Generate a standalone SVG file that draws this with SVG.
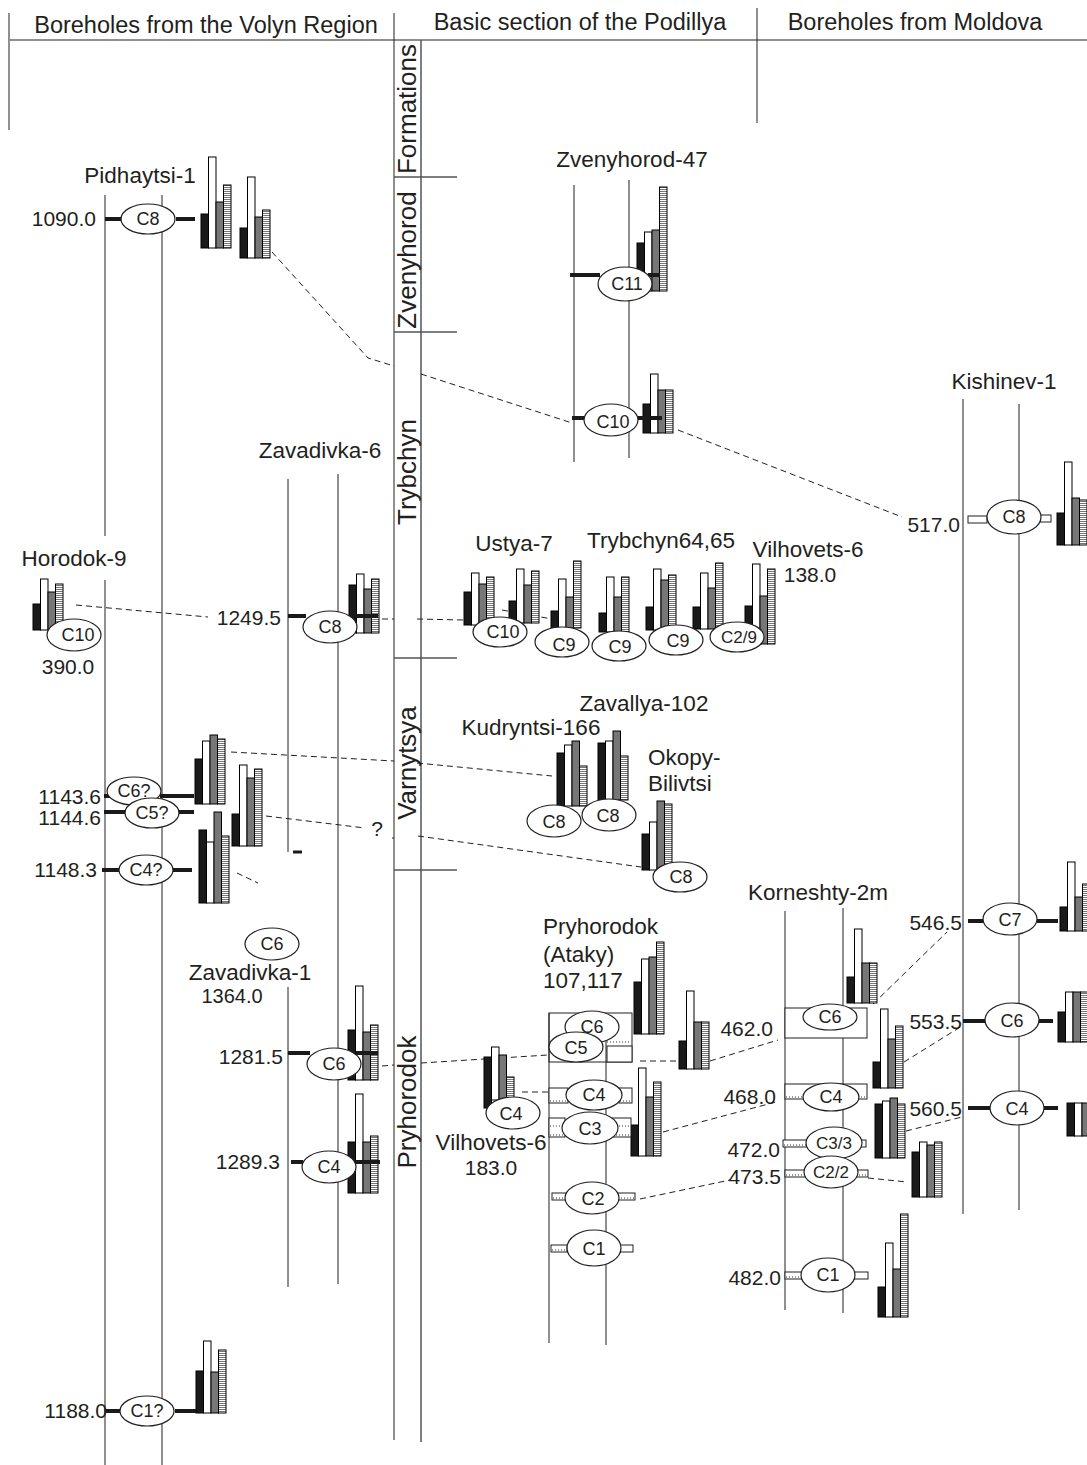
<svg xmlns="http://www.w3.org/2000/svg" width="1087" height="1465" viewBox="0 0 1087 1465">
<defs>
<pattern id="stripe" width="4" height="2" patternUnits="userSpaceOnUse"><rect width="4" height="2" fill="#fff"/><rect y="1" width="4" height="0.9" fill="#666"/></pattern>
<style>
text{font-family:'Liberation Sans',Arial,sans-serif;fill:#231f20}
.h{font-size:23.5px;text-anchor:middle}
.f{font-size:26px;text-anchor:middle}
.nm{font-size:22.5px;text-anchor:middle}
.nl{font-size:22.5px}
.v{font-size:21px;text-anchor:end}
.vm{font-size:21px;text-anchor:middle}
.c{font-size:18px;text-anchor:middle}
.cs{font-size:17px;text-anchor:middle}
.ln{stroke:#231f20;stroke-width:1;fill:none}
.fl{stroke:#555;stroke-width:1.5;fill:none}
.th{stroke:#1a1a1a;stroke-width:4;fill:none}
.ds{stroke:#231f20;stroke-width:1;stroke-dasharray:6 4;fill:none}
.el{fill:#fff;stroke:#231f20;stroke-width:1.2}
.bk{fill:#1a1a1a;stroke:#000;stroke-width:1}
.wh{fill:#fff;stroke:#000;stroke-width:1}
.gr{fill:#777;stroke:#000;stroke-width:1}
.st{fill:url(#stripe);stroke:#000;stroke-width:1}
.tab{fill:#fff;stroke:#231f20;stroke-width:1}
.dt{stroke:#777;stroke-width:1.5;stroke-dasharray:1 2;fill:none}
</style>
</defs>
<rect width="1087" height="1465" fill="#fff"/>

<g id="header">
<path class="ln" d="M9,13 V130 M10,40 H1087 M394,13 V1440 M757,8 V123"/>
<text class="h" x="206" y="33">Boreholes from the Volyn Region</text>
<text class="h" x="580" y="30">Basic section of the Podillya</text>
<text class="h" x="915" y="30">Boreholes from Moldova</text>
</g>

<g id="formations">
<path class="fl" d="M421,40 V1442 M394,177 H457 M394,332 H457 M394,658 H457 M394,870 H457"/>
<text class="f" transform="translate(416,109) rotate(-90)">Formations</text>
<text class="f" transform="translate(416,260) rotate(-90)">Zvenyhorod</text>
<text class="f" transform="translate(416,472) rotate(-90)">Trybchyn</text>
<text class="f" transform="translate(416,763) rotate(-90)">Varnytsya</text>
<text class="f" transform="translate(416,1102) rotate(-90)">Pryhorodok</text>
</g>

<g id="connectors">
<path class="ds" d="M272,252 L368,358 L394,366 M421,374 L572,423"/>
<path class="ds" d="M678,430 L902,517"/>
<path class="ds" d="M76,605 L208,617"/>
<path class="ds" d="M382,619 L394,619 M417,619 L463,620"/>
<path class="ds" d="M502,610 L552,619"/>
<path class="ds" d="M231,752 L394,761 M417,763 L552,776"/>
<path class="ds" d="M266,816 L365,828 M392,838 L394,838 M418,836 L641,867"/>
<path class="ds" d="M237,873 L258,883"/>
<path class="ds" d="M382,1066 L394,1065 M421,1063 L548,1055"/>
<path class="ds" d="M522,1092 L548,1092"/>
<path class="ds" d="M640,1061 L677,1061"/>
<path class="ds" d="M710,1061 L778,1040"/>
<path class="ds" d="M663,1132 L776,1102"/>
<path class="ds" d="M640,1199 L730,1180"/>
<path class="ds" d="M873,1004 L947,932"/>
<path class="ds" d="M904,1062 L962,1026"/>
<path class="ds" d="M906,1131 L962,1117"/>
<path class="ds" d="M868,1178 L907,1182"/>
<text class="vm" x="377" y="836">?</text>
</g>

<g id="pidhaytsi-1">
<path class="ln" d="M105,195 V536 M105,580 V1465 M162,195 V1465"/>
<text class="nm" x="140" y="183">Pidhaytsi-1</text>
<text class="v" x="96" y="226">1090.0</text>
<g transform="translate(201 0)"><rect class="bk" x="0" y="214" width="7.5" height="34"/><rect class="wh" x="7.5" y="157" width="7.5" height="91"/><rect class="gr" x="15" y="202" width="7.5" height="46"/><rect class="st" x="22.5" y="185" width="7.5" height="63"/></g>
<g transform="translate(240 0)"><rect class="bk" x="0" y="228" width="7.5" height="30"/><rect class="wh" x="7.5" y="177" width="7.5" height="81"/><rect class="gr" x="15" y="217" width="7.5" height="41"/><rect class="st" x="22.5" y="210" width="7.5" height="48"/></g>
<path class="th" d="M105,219 H122 M176,219 H195"/>
<ellipse class="el" cx="148" cy="219" rx="27" ry="15"/><text class="c" x="148" y="225">C8</text>
</g>

<g id="pidhaytsi-c6-c5-c4">
<g transform="translate(195 0)"><rect class="bk" x="0" y="759" width="7.5" height="45"/><rect class="wh" x="7.5" y="741" width="7.5" height="63"/><rect class="gr" x="15" y="735" width="7.5" height="69"/><rect class="st" x="22.5" y="739" width="7.5" height="65"/></g>
<g transform="translate(232 0)"><rect class="bk" x="0" y="814" width="7.5" height="32"/><rect class="wh" x="7.5" y="765" width="7.5" height="81"/><rect class="gr" x="15" y="778" width="7.5" height="68"/><rect class="st" x="22.5" y="769" width="7.5" height="77"/></g>
<g transform="translate(199 0)"><rect class="bk" x="0" y="830" width="7.5" height="73"/><rect class="wh" x="7.5" y="842" width="7.5" height="61"/><rect class="gr" x="15" y="812" width="7.5" height="91"/><rect class="st" x="22.5" y="836" width="7.5" height="67"/></g>
<path class="th" d="M104,796 H110 M160,796 H194 M104,812 H126 M178,812 H194 M102,870 H119 M173,870 H192"/>
<text class="v" x="101" y="804">1143.6</text>
<text class="v" x="101" y="825">1144.6</text>
<text class="v" x="97" y="877">1148.3</text>
<ellipse class="el" cx="134" cy="791" rx="27" ry="14"/><text class="c" x="134" y="797">C6?</text>
<ellipse class="el" cx="152" cy="813" rx="27" ry="15"/><text class="c" x="152" y="819">C5?</text>
<ellipse class="el" cx="146" cy="870" rx="27" ry="15"/><text class="c" x="146" y="876">C4?</text>
</g>

<g id="pidhaytsi-c1">
<g transform="translate(196 0)"><rect class="bk" x="0" y="1371" width="7.5" height="42"/><rect class="wh" x="7.5" y="1341" width="7.5" height="72"/><rect class="gr" x="15" y="1372" width="7.5" height="41"/><rect class="st" x="22.5" y="1350" width="7.5" height="63"/></g>
<path class="th" d="M105,1411 H120 M175,1411 H196"/>
<text class="v" x="107" y="1418">1188.0</text>
<ellipse class="el" cx="147" cy="1411" rx="27" ry="15"/><text class="c" x="147" y="1417">C1?</text>
</g>

<g id="horodok-9">
<text class="nm" x="74" y="566">Horodok-9</text>
<g transform="translate(33 0)"><rect class="bk" x="0" y="604" width="7.5" height="26"/><rect class="wh" x="7.5" y="579" width="7.5" height="51"/><rect class="gr" x="15" y="592" width="7.5" height="38"/><rect class="st" x="22.5" y="584" width="7.5" height="46"/></g>
<ellipse class="el" cx="74" cy="635" rx="27" ry="16"/><text class="c" x="78" y="641">C10</text>
<text class="vm" x="68" y="674">390.0</text>
</g>

<g id="zavadivka-6">
<path class="ln" d="M288,479 V852 M338,474 V1284"/>
<path class="th" d="M293,852 H302" style="stroke-width:3"/>
<text class="nm" x="320" y="458">Zavadivka-6</text>
<text class="v" x="281" y="625">1249.5</text>
<g transform="translate(349 0)"><rect class="bk" x="0" y="585" width="7.5" height="48"/><rect class="wh" x="7.5" y="574" width="7.5" height="59"/><rect class="gr" x="15" y="589" width="7.5" height="44"/><rect class="st" x="22.5" y="579" width="7.5" height="54"/></g>
<path class="th" d="M288,616 H306 M355,616 H378"/>
<ellipse class="el" cx="330" cy="627" rx="27" ry="16"/><text class="c" x="330" y="633">C8</text>
</g>

<g id="zavadivka-1">
<path class="ln" d="M288,987 V1287"/>
<ellipse class="el" cx="272" cy="944" rx="27" ry="16"/><text class="c" x="272" y="950">C6</text>
<text class="nm" x="250" y="980">Zavadivka-1</text>
<text class="vm" x="232" y="1003" style="font-size:20px">1364.0</text>
<text class="v" x="283" y="1064">1281.5</text>
<g transform="translate(348 0)"><rect class="bk" x="0" y="1030" width="7.5" height="50"/><rect class="wh" x="7.5" y="986" width="7.5" height="94"/><rect class="gr" x="15" y="1032" width="7.5" height="48"/><rect class="st" x="22.5" y="1025" width="7.5" height="55"/></g>
<path class="th" d="M288,1053 H310 M356,1053 H378"/>
<ellipse class="el" cx="334" cy="1064" rx="27" ry="16"/><text class="c" x="334" y="1070">C6</text>
<text class="v" x="280" y="1169">1289.3</text>
<g transform="translate(348 0)"><rect class="bk" x="0" y="1142" width="7.5" height="51"/><rect class="wh" x="7.5" y="1094" width="7.5" height="99"/><rect class="gr" x="15" y="1142" width="7.5" height="51"/><rect class="st" x="22.5" y="1136" width="7.5" height="57"/></g>
<path class="th" d="M291,1162 H303 M355,1162 H380"/>
<ellipse class="el" cx="329" cy="1167" rx="27" ry="16"/><text class="c" x="329" y="1173">C4</text>
</g>

<g id="zvenyhorod-47">
<path class="ln" d="M574,185 V462 M629,180 V458"/>
<text class="nm" x="632" y="167">Zvenyhorod-47</text>
<g transform="translate(637 0)"><rect class="bk" x="0" y="243" width="7.5" height="48"/><rect class="wh" x="7.5" y="232" width="7.5" height="59"/><rect class="gr" x="15" y="230" width="7.5" height="61"/><rect class="st" x="22.5" y="187" width="7.5" height="104"/></g>
<path class="th" d="M570,275 H600 M648,275 H660"/>
<ellipse class="el" cx="625" cy="284" rx="27" ry="17"/><text class="c" x="627" y="290">C11</text>
<g transform="translate(643 0)"><rect class="bk" x="0" y="404" width="7.5" height="29"/><rect class="wh" x="7.5" y="374" width="7.5" height="59"/><rect class="gr" x="15" y="390" width="7.5" height="43"/><rect class="st" x="22.5" y="390" width="7.5" height="43"/></g>
<path class="th" d="M572,418 H586 M638,418 H662"/>
<ellipse class="el" cx="611" cy="420" rx="27" ry="16"/><text class="c" x="613" y="428">C10</text>
</g>

<g id="trybchyn-sections">
<text class="nm" x="514" y="551">Ustya-7</text>
<text class="nm" x="661" y="548">Trybchyn64,65</text>
<text class="nm" x="808" y="557">Vilhovets-6</text>
<text class="vm" x="810" y="582">138.0</text>
<g transform="translate(464 0)"><rect class="bk" x="0" y="592" width="7.5" height="33"/><rect class="wh" x="7.5" y="573" width="7.5" height="52"/><rect class="gr" x="15" y="584" width="7.5" height="41"/><rect class="st" x="22.5" y="577" width="7.5" height="48"/></g>
<g transform="translate(509 0)"><rect class="bk" x="0" y="601" width="7.5" height="22"/><rect class="wh" x="7.5" y="569" width="7.5" height="54"/><rect class="gr" x="15" y="585" width="7.5" height="38"/><rect class="st" x="22.5" y="571" width="7.5" height="52"/></g>
<g transform="translate(551 0)"><rect class="bk" x="0" y="611" width="7.5" height="17"/><rect class="wh" x="7.5" y="579" width="7.5" height="49"/><rect class="gr" x="15" y="597" width="7.5" height="31"/><rect class="st" x="22.5" y="561" width="7.5" height="67"/></g>
<g transform="translate(599 0)"><rect class="bk" x="0" y="613" width="7.5" height="19"/><rect class="wh" x="7.5" y="577" width="7.5" height="55"/><rect class="gr" x="15" y="597" width="7.5" height="35"/><rect class="st" x="22.5" y="577" width="7.5" height="55"/></g>
<g transform="translate(646 0)"><rect class="bk" x="0" y="607" width="7.5" height="23"/><rect class="wh" x="7.5" y="569" width="7.5" height="61"/><rect class="gr" x="15" y="580" width="7.5" height="50"/><rect class="st" x="22.5" y="575" width="7.5" height="55"/></g>
<g transform="translate(693 0)"><rect class="bk" x="0" y="607" width="7.5" height="22"/><rect class="wh" x="7.5" y="573" width="7.5" height="56"/><rect class="gr" x="15" y="588" width="7.5" height="41"/><rect class="st" x="22.5" y="563" width="7.5" height="66"/></g>
<g transform="translate(745 0)"><rect class="bk" x="0" y="606" width="7.5" height="38"/><rect class="wh" x="7.5" y="564" width="7.5" height="80"/><rect class="gr" x="15" y="596" width="7.5" height="48"/><rect class="st" x="22.5" y="569" width="7.5" height="75"/></g>
<ellipse class="el" cx="500" cy="632" rx="27" ry="15"/><text class="c" x="503" y="638">C10</text>
<ellipse class="el" cx="562" cy="642" rx="27" ry="15"/><text class="c" x="564" y="651">C9</text>
<ellipse class="el" cx="619" cy="646" rx="27" ry="15"/><text class="c" x="620" y="653">C9</text>
<ellipse class="el" cx="676" cy="640" rx="27" ry="15"/><text class="c" x="678" y="647">C9</text>
<ellipse class="el" cx="737" cy="637" rx="27" ry="15"/><text class="cs" x="739" y="643">C2/9</text>
</g>

<g id="varnytsya-sections">
<text class="nm" x="644" y="711">Zavallya-102</text>
<text class="nm" x="531" y="735">Kudryntsi-166</text>
<text class="nl" x="648" y="765">Okopy-</text>
<text class="nl" x="648" y="791">Bilivtsi</text>
<g transform="translate(557 0)"><rect class="bk" x="0" y="753" width="7.5" height="53"/><rect class="wh" x="7.5" y="745" width="7.5" height="61"/><rect class="gr" x="15" y="741" width="7.5" height="65"/><rect class="st" x="22.5" y="766" width="7.5" height="40"/></g>
<g transform="translate(598 0)"><rect class="bk" x="0" y="743" width="7.5" height="57"/><rect class="wh" x="7.5" y="741" width="7.5" height="59"/><rect class="gr" x="15" y="731" width="7.5" height="69"/><rect class="st" x="22.5" y="756" width="7.5" height="44"/></g>
<g transform="translate(642 0)"><rect class="bk" x="0" y="834" width="7.5" height="36"/><rect class="wh" x="7.5" y="822" width="7.5" height="48"/><rect class="gr" x="15" y="801" width="7.5" height="69"/><rect class="st" x="22.5" y="804" width="7.5" height="66"/></g>
<ellipse class="el" cx="554" cy="821" rx="27" ry="16"/><text class="c" x="554" y="828">C8</text>
<ellipse class="el" cx="609" cy="815" rx="27" ry="16"/><text class="c" x="608" y="822">C8</text>
<ellipse class="el" cx="680" cy="877" rx="27" ry="15"/><text class="c" x="681" y="883">C8</text>
</g>

<g id="pryhorodok-ataky">
<path class="ln" d="M549,1013 V1343 M606,1013 V1345"/>
<text class="nl" x="543" y="934">Pryhorodok</text>
<text class="nl" x="543" y="962">(Ataky)</text>
<text class="nl" x="543" y="988">107,117</text>
<g transform="translate(634 0)"><rect class="bk" x="0" y="982" width="7.5" height="52"/><rect class="wh" x="7.5" y="959" width="7.5" height="75"/><rect class="gr" x="15" y="957" width="7.5" height="77"/><rect class="st" x="22.5" y="942" width="7.5" height="92"/></g>
<g transform="translate(679 0)"><rect class="bk" x="0" y="1041" width="7.5" height="28"/><rect class="wh" x="7.5" y="991" width="7.5" height="78"/><rect class="gr" x="15" y="1022" width="7.5" height="47"/><rect class="st" x="22.5" y="1022" width="7.5" height="47"/></g>
<g transform="translate(631 0)"><rect class="bk" x="0" y="1125" width="7.5" height="31"/><rect class="wh" x="7.5" y="1068" width="7.5" height="88"/><rect class="gr" x="15" y="1097" width="7.5" height="59"/><rect class="st" x="22.5" y="1082" width="7.5" height="74"/></g>
<rect class="tab" x="549" y="1013" width="83" height="49" style="fill:none"/>
<rect class="tab" x="607" y="1046" width="25" height="16"/>
<path class="dt" d="M607,1042 H631"/>
<ellipse class="el" cx="592" cy="1027" rx="27" ry="16"/><text class="c" x="592" y="1033">C6</text>
<ellipse class="el" cx="576" cy="1047" rx="27" ry="15"/><text class="c" x="576" y="1054">C5</text>
<rect class="tab" x="549" y="1088" width="19" height="15"/><rect class="tab" x="619" y="1088" width="13" height="15"/>
<path class="dt" d="M550,1101 H567 M620,1101 H631"/>
<ellipse class="el" cx="594" cy="1095" rx="28" ry="15"/><text class="c" x="594" y="1101">C4</text>
<rect class="tab" x="549" y="1118" width="16" height="19"/><rect class="tab" x="612" y="1118" width="19" height="19"/>
<path class="dt" d="M550,1126 H564 M550,1135 H564 M613,1126 H630 M613,1135 H630"/>
<ellipse class="el" cx="590" cy="1128" rx="28" ry="16"/><text class="c" x="590" y="1135">C3</text>
<rect class="tab" x="552" y="1193" width="15" height="7"/><rect class="tab" x="617" y="1193" width="18" height="7"/>
<path class="dt" d="M553,1198 H566 M618,1198 H634"/>
<ellipse class="el" cx="592" cy="1198" rx="27" ry="16"/><text class="c" x="593" y="1205">C2</text>
<rect class="tab" x="551" y="1245" width="16" height="7"/><rect class="tab" x="620" y="1245" width="13" height="7"/>
<path class="dt" d="M552,1250 H566"/>
<ellipse class="el" cx="594" cy="1248" rx="27" ry="18"/><text class="c" x="594" y="1255">C1</text>
</g>

<g id="vilhovets-6-183">
<g transform="translate(484 0)"><rect class="bk" x="0" y="1057" width="7.5" height="51"/><rect class="wh" x="7.5" y="1047" width="7.5" height="53"/><rect class="gr" x="15" y="1055" width="7.5" height="45"/><rect class="st" x="22.5" y="1077" width="7.5" height="23"/></g>
<ellipse class="el" cx="513" cy="1113" rx="27" ry="16"/><text class="c" x="511" y="1120">C4</text>
<text class="nm" x="491" y="1150">Vilhovets-6</text>
<text class="vm" x="491" y="1175">183.0</text>
</g>

<g id="korneshty-2m">
<path class="ln" d="M785,911 V1310 M843,908 V1313"/>
<text class="nm" x="818" y="900">Korneshty-2m</text>
<g transform="translate(847 0)"><rect class="bk" x="0" y="977" width="7.5" height="26"/><rect class="wh" x="7.5" y="929" width="7.5" height="74"/><rect class="gr" x="15" y="963" width="7.5" height="40"/><rect class="st" x="22.5" y="963" width="7.5" height="40"/></g>
<rect class="tab" x="785" y="1008" width="82" height="30"/>
<ellipse class="el" cx="830" cy="1017" rx="27" ry="13"/><text class="c" x="830" y="1023">C6</text>
<text class="v" x="773" y="1036">462.0</text>
<g transform="translate(873 0)"><rect class="bk" x="0" y="1062" width="7.5" height="26"/><rect class="wh" x="7.5" y="1009" width="7.5" height="79"/><rect class="gr" x="15" y="1039" width="7.5" height="49"/><rect class="st" x="22.5" y="1026" width="7.5" height="62"/></g>
<rect class="tab" x="785" y="1084" width="82" height="15"/>
<path class="dt" d="M786,1097 H806 M858,1097 H866"/>
<ellipse class="el" cx="831" cy="1097" rx="28" ry="14"/><text class="c" x="831" y="1103">C4</text>
<text class="v" x="776" y="1104">468.0</text>
<g transform="translate(875 0)"><rect class="bk" x="0" y="1104" width="7.5" height="54"/><rect class="wh" x="7.5" y="1101" width="7.5" height="57"/><rect class="gr" x="15" y="1098" width="7.5" height="60"/><rect class="st" x="22.5" y="1104" width="7.5" height="54"/></g>
<rect class="tab" x="783" y="1140" width="24" height="7"/><rect class="tab" x="855" y="1140" width="11" height="7"/>
<path class="dt" d="M784,1145 H806"/>
<ellipse class="el" cx="834" cy="1143" rx="28" ry="16"/><text class="cs" x="834" y="1149">C3/3</text>
<text class="v" x="780" y="1157">472.0</text>
<rect class="tab" x="785" y="1170" width="21" height="7"/><rect class="tab" x="855" y="1170" width="13" height="7"/>
<path class="dt" d="M786,1175 H805 M856,1175 H867"/>
<ellipse class="el" cx="831" cy="1172" rx="27" ry="16"/><text class="cs" x="831" y="1178">C2/2</text>
<text class="v" x="781" y="1184">473.5</text>
<g transform="translate(912 0)"><rect class="bk" x="0" y="1152" width="7.5" height="45"/><rect class="wh" x="7.5" y="1142" width="7.5" height="55"/><rect class="gr" x="15" y="1145" width="7.5" height="52"/><rect class="st" x="22.5" y="1142" width="7.5" height="55"/></g>
<rect class="tab" x="785" y="1272" width="18" height="7"/><rect class="tab" x="852" y="1272" width="16" height="7"/>
<path class="dt" d="M786,1277 H802"/>
<ellipse class="el" cx="828" cy="1275" rx="27" ry="17"/><text class="c" x="828" y="1281">C1</text>
<text class="v" x="781" y="1285">482.0</text>
<g transform="translate(878 0)"><rect class="bk" x="0" y="1287" width="7.5" height="30"/><rect class="wh" x="7.5" y="1243" width="7.5" height="74"/><rect class="gr" x="15" y="1269" width="7.5" height="48"/><rect class="st" x="22.5" y="1214" width="7.5" height="103"/></g>
</g>

<g id="kishinev-1">
<path class="ln" d="M963,399 V1214 M1019,404 V1210"/>
<text class="nm" x="1004" y="389">Kishinev-1</text>
<text class="v" x="960" y="532">517.0</text>
<rect class="tab" x="968" y="516" width="19" height="7"/><rect class="tab" x="1040" y="515" width="11" height="7"/>
<ellipse class="el" cx="1014" cy="517" rx="27" ry="17"/><text class="c" x="1014" y="523">C8</text>
<g transform="translate(1057 0)"><rect class="bk" x="0" y="513" width="7.5" height="32"/><rect class="wh" x="7.5" y="462" width="7.5" height="83"/><rect class="gr" x="15" y="498" width="7.5" height="47"/><rect class="st" x="22.5" y="500" width="7.5" height="45"/></g>
<text class="v" x="962" y="930">546.5</text>
<g transform="translate(1060 0)"><rect class="bk" x="0" y="907" width="7.5" height="24"/><rect class="wh" x="7.5" y="862" width="7.5" height="69"/><rect class="gr" x="15" y="897" width="7.5" height="34"/><rect class="st" x="22.5" y="884" width="7.5" height="47"/></g>
<path class="th" d="M968,921 H984 M1037,921 H1058"/>
<ellipse class="el" cx="1010" cy="919" rx="27" ry="16"/><text class="c" x="1010" y="926">C7</text>
<text class="v" x="962" y="1029">553.5</text>
<g transform="translate(1058 0)"><rect class="bk" x="0" y="1012" width="7.5" height="30"/><rect class="wh" x="7.5" y="992" width="7.5" height="50"/><rect class="gr" x="15" y="992" width="7.5" height="50"/><rect class="st" x="22.5" y="992" width="7.5" height="50"/></g>
<path class="th" d="M963,1021 H986 M1038,1021 H1053"/>
<ellipse class="el" cx="1012" cy="1020" rx="27" ry="17"/><text class="c" x="1012" y="1027">C6</text>
<text class="v" x="962" y="1116">560.5</text>
<g transform="translate(1067 0)"><rect class="bk" x="0" y="1103" width="7.5" height="33"/><rect class="wh" x="7.5" y="1103" width="7.5" height="33"/><rect class="gr" x="15" y="1103" width="7.5" height="33"/><rect class="st" x="22.5" y="1103" width="7.5" height="33"/></g>
<path class="th" d="M968,1108 H991 M1044,1108 H1058"/>
<ellipse class="el" cx="1017" cy="1108" rx="27" ry="17"/><text class="c" x="1017" y="1115">C4</text>
</g>
</svg>
